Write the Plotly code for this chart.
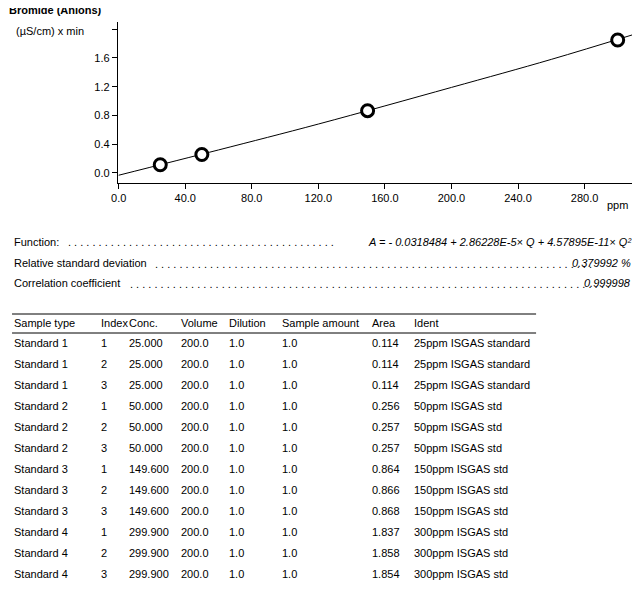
import plotly.graph_objects as go

W, H = 624, 581   # page body has an 8px margin in the 640x597 window
OFF = 8

# calibration points (mean area per standard)
conc = [25.0, 50.0, 149.6, 299.9]
area = [0.114, 0.257, 0.866, 1.850]
# calibration curve
curve_x = [0, 60, 120, 200, 260, 310]
curve_y = [-0.032, 0.32, 0.68, 1.19, 1.58, 1.93]

types = ["Standard 1"] * 3 + ["Standard 2"] * 3 + ["Standard 3"] * 3 + ["Standard 4"] * 3
idx = ["1", "2", "3"] * 4
concs = ["25.000"] * 3 + ["50.000"] * 3 + ["149.600"] * 3 + ["299.900"] * 3
areas = ["0.114", "0.114", "0.114", "0.256", "0.257", "0.257",
         "0.864", "0.866", "0.868", "1.837", "1.858", "1.854"]
idents = ["25ppm ISGAS standard"] * 3 + ["50ppm ISGAS std"] * 3 + \
         ["150ppm ISGAS std"] * 3 + ["300ppm ISGAS std"] * 3
headers = ["Sample type", "Index", "Conc.", "Volume", "Dilution", "Sample amount", "Area", "Ident"]
col_x = [7, 95, 123, 176, 224, 278, 369, 411]

FONT = "Liberation Sans, Arial, sans-serif"


def px(x, y):
    return (x - OFF) / W, 1 - (y - OFF) / H


fig = go.Figure()
fig.add_trace(go.Scatter(x=curve_x, y=curve_y, mode="lines", line=dict(color="black", width=1, shape="spline"),
                         showlegend=False, hoverinfo="skip", cliponaxis=False))
fig.add_trace(go.Scatter(x=conc, y=area, mode="markers", cliponaxis=False,
                         marker=dict(size=12, color="white", line=dict(color="black", width=3)),
                         showlegend=False))

ann = []


def text(x, y, s, anchor="left", size=11, bold=False, italic=False):
    if bold:
        s = "<b>" + s + "</b>"
    if italic:
        s = "<i>" + s + "</i>"
    # annotations carry ~2px of padding; compensate
    x = x - 2 if anchor == "left" else x + 2
    xx, yy = px(x, y)
    ann.append(dict(x=xx, y=yy, xref="paper", yref="paper", text=s, showarrow=False,
                    xanchor=anchor, yanchor="middle", font=dict(family=FONT, size=size, color="black")))


text(2, 10, "Bromide (Anions)", bold=True)
text(9, 31, "(µS/cm) x min")
text(607, 205, "ppm")

text(7, 242, "Function:")
text(62, 242, ". " * 44)
text(631, 242, "A = - 0.0318484 + 2.86228E-5× Q + 4.57895E-11× Q²", anchor="right", italic=True)
text(7, 263, "Relative standard deviation")
text(150, 264, ". " * 72)
text(631, 263, "0.379992 %", anchor="right", italic=True)
text(7, 283, "Correlation coefficient")
text(124, 284, ". " * 79)
text(631, 283, "0.999998", anchor="right", italic=True)

for h, x in zip(headers, col_x):
    text(x, 323, h)
for i in range(len(types)):
    y = 343 + i * 21
    row = [types[i], idx[i], concs[i], "200.0", "1.0", "1.0", areas[i], idents[i]]
    for v, x in zip(row, col_x):
        text(x, y, v)

shapes = []
for y in (314, 333):
    x0, y0 = px(5, y)
    x1, _ = px(535, y)
    shapes.append(dict(type="line", xref="paper", yref="paper", x0=x0, x1=x1, y0=y0, y1=y0,
                       line=dict(color="black", width=1)))

xd0, yd1 = px(112, 22)
xd1, yd0 = px(632, 183)
fig.update_layout(
    width=W, height=H, margin=dict(l=0, r=0, t=0, b=0),
    plot_bgcolor="white", paper_bgcolor="white",
    annotations=ann, shapes=shapes,
    xaxis=dict(domain=[xd0, xd1], range=[-0.5, 308.5], tickvals=[0, 40, 80, 120, 160, 200, 240, 280],
               ticktext=["0.0", "40.0", "80.0", "120.0", "160.0", "200.0", "240.0", "280.0"],
               showgrid=False, zeroline=False, showline=True, linecolor="black", ticks="outside",
               ticklen=5, tickcolor="black", tickfont=dict(family=FONT, size=11, color="black")),
    yaxis=dict(domain=[yd0, yd1], range=[-0.14, 2.1], tickvals=[0, 0.4, 0.8, 1.2, 1.6, 2.0],
               ticktext=["0.0", "0.4", "0.8", "1.2", "1.6", ""],
               showgrid=False, zeroline=False, showline=True, linecolor="black", ticks="outside",
               ticklen=5, tickcolor="black", tickfont=dict(family=FONT, size=11, color="black")),
)
fig.write_html("out.html")
